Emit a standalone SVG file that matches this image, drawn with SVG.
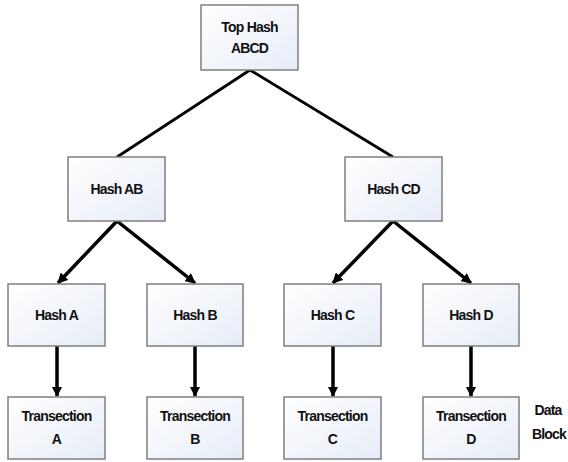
<svg xmlns="http://www.w3.org/2000/svg" width="568" height="462" viewBox="0 0 568 462">
<style>
.box{fill:url(#g);stroke:#7f7f7f;stroke-width:1.5}
.t{font-family:"Liberation Sans",Arial,sans-serif;font-size:14px;font-weight:bold;fill:#111;text-anchor:middle;letter-spacing:-0.8px}
.l{stroke:#000;stroke-width:2.8;fill:none}
.a{stroke:#000;stroke-width:3.5;fill:none;marker-end:url(#ah)}
</style>
<defs>
<linearGradient id="g" x1="0" y1="0" x2="1" y2="1">
<stop offset="0" stop-color="#ffffff"/>
<stop offset="1" stop-color="#e6ecf7"/>
</linearGradient>
<marker id="ah" viewBox="0 0 10 10" refX="9" refY="5" markerWidth="3" markerHeight="3" orient="auto" markerUnits="strokeWidth">
<path d="M0,0 L10,5 L0,10 z" fill="#000"/>
</marker>
</defs>
<rect width="568" height="462" fill="#fff"/>
<g id="connectors">
<line class="l" x1="250" y1="70" x2="117" y2="157"/>
<line class="l" x1="250" y1="70" x2="393" y2="157"/>
<line class="a" x1="117" y1="221" x2="58" y2="283"/>
<line class="a" x1="117" y1="221" x2="195" y2="283"/>
<line class="a" x1="393" y1="221" x2="333" y2="283"/>
<line class="a" x1="393" y1="221" x2="471" y2="283"/>
<line class="a" x1="57" y1="346" x2="57" y2="396"/>
<line class="a" x1="195" y1="346" x2="195" y2="396"/>
<line class="a" x1="333" y1="346" x2="333" y2="396"/>
<line class="a" x1="471" y1="346" x2="471" y2="396"/>
</g>
<g id="top"><rect class="box" x="201" y="5" width="97" height="65"/><text class="t" x="249.5" y="32">Top Hash</text><text class="t" x="249.5" y="53">ABCD</text></g>
<g id="hashAB"><rect class="box" x="68" y="157" width="97" height="64"/><text class="t" x="116.5" y="194">Hash AB</text></g>
<g id="hashCD"><rect class="box" x="345" y="157" width="97" height="64"/><text class="t" x="393.5" y="194">Hash CD</text></g>
<g id="hashA"><rect class="box" x="8" y="284" width="97" height="62"/><text class="t" x="56.5" y="320">Hash A</text></g>
<g id="hashB"><rect class="box" x="147" y="284" width="96" height="62"/><text class="t" x="195" y="320">Hash B</text></g>
<g id="hashC"><rect class="box" x="284" y="284" width="97" height="62"/><text class="t" x="332.5" y="320">Hash C</text></g>
<g id="hashD"><rect class="box" x="423" y="284" width="96" height="62"/><text class="t" x="471" y="320">Hash D</text></g>
<g id="txA"><rect class="box" x="8" y="397" width="97" height="62"/><text class="t" x="56.5" y="421">Transection</text><text class="t" x="56.5" y="444">A</text></g>
<g id="txB"><rect class="box" x="147" y="397" width="96" height="62"/><text class="t" x="195" y="421">Transection</text><text class="t" x="195" y="444">B</text></g>
<g id="txC"><rect class="box" x="284" y="397" width="97" height="62"/><text class="t" x="332.5" y="421">Transection</text><text class="t" x="332.5" y="444">C</text></g>
<g id="txD"><rect class="box" x="423" y="397" width="96" height="62"/><text class="t" x="471" y="421">Transection</text><text class="t" x="471" y="444">D</text></g>
<g id="label"><text class="t" x="548" y="415">Data</text><text class="t" x="549" y="439">Block</text></g>
</svg>
